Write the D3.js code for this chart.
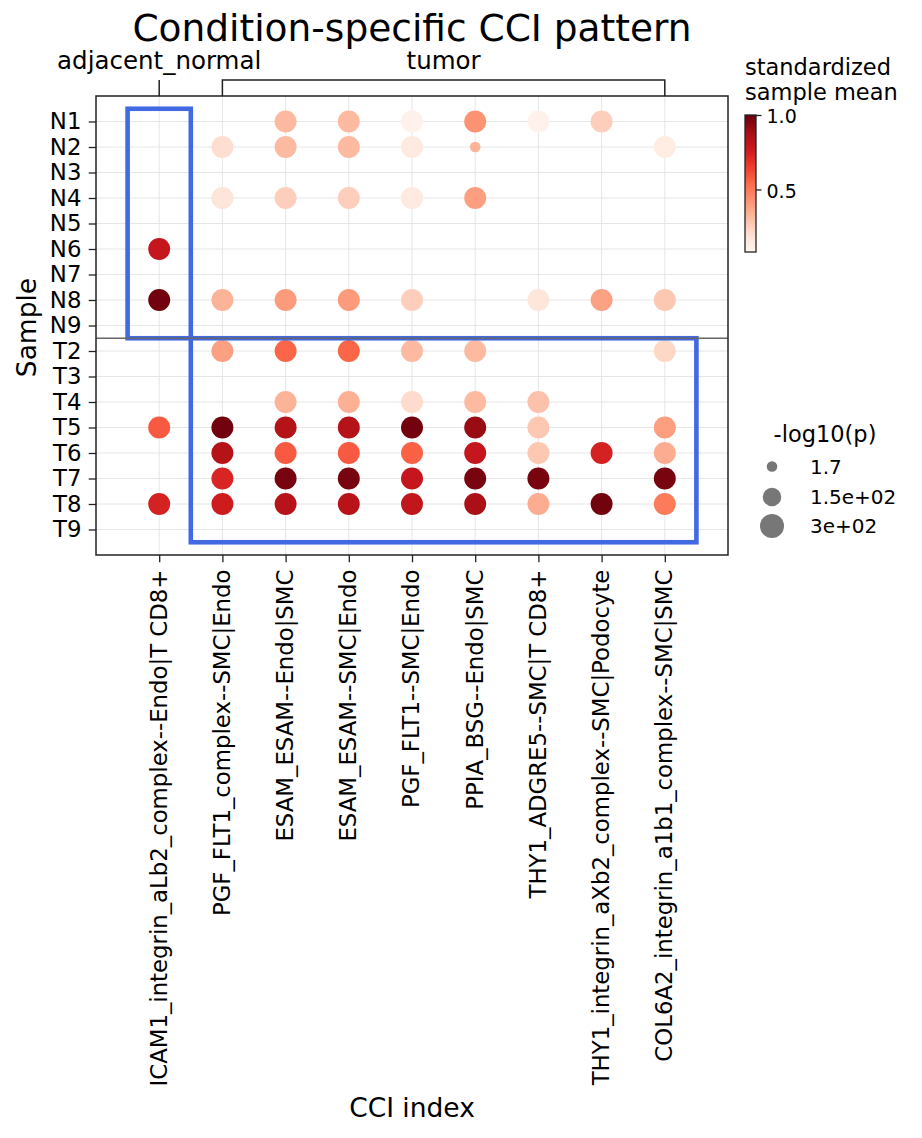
<!DOCTYPE html>
<html>
<head>
<meta charset="utf-8">
<script src="https://cdn.jsdelivr.net/npm/d3@7"></script>
<style>
  html, body { margin: 0; padding: 0; background: #fff; }
  text { font-family: "DejaVu Sans", sans-serif; fill: #000; }
</style>
</head>
<body>
<svg id="chart" width="922" height="1138"></svg>
<script>
// ---------------- DATA ----------------
const samples = ["N1","N2","N3","N4","N5","N6","N7","N8","N9","T2","T3","T4","T5","T6","T7","T8","T9"];
const cciIndex = [
  "ICAM1_integrin_aLb2_complex--Endo|T CD8+",
  "PGF_FLT1_complex--SMC|Endo",
  "ESAM_ESAM--Endo|SMC",
  "ESAM_ESAM--SMC|Endo",
  "PGF_FLT1--SMC|Endo",
  "PPIA_BSG--Endo|SMC",
  "THY1_ADGRE5--SMC|T CD8+",
  "THY1_integrin_aXb2_complex--SMC|Podocyte",
  "COL6A2_integrin_a1b1_complex--SMC|SMC"
];
// standardized sample mean, one array per sample (null = no dot)
const meanN1 = [null, null, 0.31, 0.31, 0.10, 0.42, 0.10, 0.25, null];
const meanN2 = [null, 0.20, 0.31, 0.31, 0.14, 0.33, null, null, 0.13];
const meanN3 = [null, null, null, null, null, null, null, null, null];
const meanN4 = [null, 0.17, 0.25, 0.25, 0.14, 0.39, null, null, null];
const meanN5 = [null, null, null, null, null, null, null, null, null];
const meanN6 = [0.79, null, null, null, null, null, null, null, null];
const meanN7 = [null, null, null, null, null, null, null, null, null];
const meanN8 = [0.98, 0.33, 0.40, 0.40, 0.25, null, 0.16, 0.38, 0.27];
const meanN9 = [null, null, null, null, null, null, null, null, null];
const meanT2 = [null, 0.385, 0.55, 0.55, 0.31, 0.31, null, null, 0.22];
const meanT3 = [null, null, null, null, null, null, null, null, null];
const meanT4 = [null, null, 0.33, 0.34, 0.21, 0.31, 0.29, null, null];
const meanT5 = [0.58, 0.98, 0.84, 0.84, 0.98, 0.905, 0.27, null, 0.39];
const meanT6 = [null, 0.84, 0.58, 0.58, 0.56, 0.79, 0.27, 0.74, 0.35];
const meanT7 = [null, 0.73, 0.97, 0.97, 0.79, 0.97, 0.97, null, 0.97];
const meanT8 = [0.74, 0.76, 0.83, 0.83, 0.80, 0.87, 0.35, 0.98, 0.49];
const meanT9 = [null, null, null, null, null, null, null, null, null];
const sampleMeans = [meanN1, meanN2, meanN3, meanN4, meanN5, meanN6, meanN7, meanN8, meanN9,
                     meanT2, meanT3, meanT4, meanT5, meanT6, meanT7, meanT8, meanT9];
// -log10(p) for each dot (same layout); small dot at N2 / PPIA_BSG
const pDefault = 240;
const pOverrides = [{sample: "N2", cci: "PPIA_BSG--Endo|SMC", value: 1.7}];

// condition groups over the CCI index
const groupNames = ["adjacent_normal", "tumor"];
const groupFirst = [0, 1];
const groupLast  = [0, 8];
const groupSamplePrefix = ["N", "T"];

// colour bar & legend
const colorMin = 0.08, colorMax = 1.0;
const colorTicks = [0.5, 1.0];
const sizeLegendValues = [1.7, 150, 300];
const sizeLegendLabels = ["1.7", "1.5e+02", "3e+02"];
const sizeMin = 1.7, sizeMax = 300;

// ---------------- LAYOUT ----------------
const svg = d3.select("#chart");
svg.append("rect").attr("width", 922).attr("height", 1138).attr("fill", "#fff");

const L = 96, R = 728, T = 96, B = 555;
const FONT_TICK = 22.8;

const x = d3.scalePoint().domain(cciIndex).range([L, R]).padding(1);
const y = d3.scalePoint().domain(samples).range([T, B]).padding(1);
const xs = x.step(), ys = y.step();

// matplotlib Reds
const redsStops = [0, 0.125, 0.25, 0.375, 0.5, 0.625, 0.75, 0.875, 1];
const redsColors = ["#fff5f0","#fee0d2","#fcbba1","#fc9272","#fb6a4a","#ef3b2c","#cb181d","#a50f15","#67000d"];
const color = d3.scaleLinear()
  .domain(redsStops.map(t => colorMin + t * (colorMax - colorMin)))
  .range(redsColors)
  .interpolate(d3.interpolateRgb)
  .clamp(true);

// size: marker area linear in value
const rMin = 5.3, rMax = 12;
const area = d3.scaleLinear().domain([sizeMin, sizeMax]).range([rMin * rMin, rMax * rMax]);
const radius = v => Math.sqrt(Math.max(area(v), 1));

// build dot table
const dots = [];
samples.forEach((s, i) => {
  sampleMeans[i].forEach((m, j) => {
    if (m === null) return;
    const ov = pOverrides.find(o => o.sample === s && o.cci === cciIndex[j]);
    dots.push({sample: s, cci: cciIndex[j], mean: m, p: ov ? ov.value : pDefault});
  });
});

// grid
const grid = svg.append("g");
grid.selectAll(".gx").data(cciIndex).join("line")
  .attr("x1", d => x(d)).attr("x2", d => x(d)).attr("y1", T).attr("y2", B)
  .attr("stroke", "#e6e6e6").attr("stroke-width", 1);
grid.selectAll(".gy").data(samples).join("line")
  .attr("y1", d => y(d)).attr("y2", d => y(d)).attr("x1", L).attr("x2", R)
  .attr("stroke", "#e6e6e6").attr("stroke-width", 1);

// dots
svg.append("g").selectAll("circle").data(dots).join("circle")
  .attr("cx", d => x(d.cci)).attr("cy", d => y(d.sample))
  .attr("r", d => radius(d.p))
  .attr("fill", d => color(d.mean));

// highlight boxes (condition-specific region)
const boxes = svg.append("g");
groupNames.forEach((g, gi) => {
  const rows = samples.filter(s => s.startsWith(groupSamplePrefix[gi]));
  const x0 = x(cciIndex[groupFirst[gi]]) - xs / 2;
  const x1 = x(cciIndex[groupLast[gi]]) + xs / 2;
  const y0 = y(rows[0]) - ys / 2;
  const y1 = y(rows[rows.length - 1]) + ys / 2;
  boxes.append("rect")
    .attr("x", x0).attr("y", y0).attr("width", x1 - x0).attr("height", y1 - y0)
    .attr("fill", "none").attr("stroke", "#4169e1").attr("stroke-width", 4.6);
});

// separator between normal and tumor samples
const lastN = samples.filter(s => s.startsWith("N")).pop();
const firstT = samples.find(s => s.startsWith("T"));
const sepY = (y(lastN) + y(firstT)) / 2;
svg.append("line").attr("x1", L).attr("x2", R).attr("y1", sepY).attr("y2", sepY)
  .attr("stroke", "#666").attr("stroke-width", 1.5);

// frame
svg.append("rect").attr("x", L).attr("y", T).attr("width", R - L).attr("height", B - T)
  .attr("fill", "none").attr("stroke", "#222").attr("stroke-width", 1.5);

// y axis
const yAxis = svg.append("g").attr("transform", `translate(${L},0)`)
  .call(d3.axisLeft(y).tickSize(7.3).tickPadding(7.3));
yAxis.select(".domain").remove();
yAxis.selectAll(".tick line").attr("stroke", "#222").attr("stroke-width", 1.3);
yAxis.selectAll(".tick text").style("font-family", "DejaVu Sans").style("font-size", FONT_TICK + "px").attr("fill", "#000");

// x axis
const xAxis = svg.append("g").attr("transform", `translate(0,${B})`)
  .call(d3.axisBottom(x).tickSize(7.3).tickPadding(7.3));
xAxis.select(".domain").remove();
xAxis.selectAll(".tick line").attr("stroke", "#222").attr("stroke-width", 1.3);
xAxis.selectAll(".tick text")
  .style("font-family", "DejaVu Sans").style("font-size", FONT_TICK + "px").attr("fill", "#000")
  .attr("transform", "rotate(-90)")
  .attr("x", -14.6).attr("y", -1).attr("dy", "0.35em")
  .attr("text-anchor", "end");

// axis labels
svg.append("text").attr("transform", `translate(36,${(T + B) / 2 + 2}) rotate(-90)`)
  .attr("text-anchor", "middle").style("font-size", "26.5px").text("Sample");
svg.append("text").attr("x", (L + R) / 2).attr("y", 1117)
  .attr("text-anchor", "middle").style("font-size", "26.5px").text("CCI index");

// title
svg.append("text").attr("x", (L + R) / 2).attr("y", 41)
  .attr("text-anchor", "middle").style("font-size", "37.5px").text("Condition-specific CCI pattern");

// group brackets
const br = svg.append("g");
const brY = 80;
groupNames.forEach((g, gi) => {
  const a = x(cciIndex[groupFirst[gi]]), b = x(cciIndex[groupLast[gi]]);
  let path;
  if (a === b) path = `M${a},${T}V${brY}`;
  else path = `M${a},${T}V${brY}H${b}V${T}`;
  br.append("path").attr("d", path).attr("fill", "none").attr("stroke", "#222").attr("stroke-width", 1.5);
  br.append("text").attr("x", (a + b) / 2).attr("y", 68.5).attr("text-anchor", "middle")
    .style("font-size", "24.5px").text(g);
});

// colour bar
const cbX = 745, cbY = 115, cbW = 11, cbH = 137;
const defs = svg.append("defs");
const grad = defs.append("linearGradient").attr("id", "redsGrad")
  .attr("x1", 0).attr("y1", 1).attr("x2", 0).attr("y2", 0);
d3.range(0, 1.0001, 0.05).forEach(t => {
  grad.append("stop").attr("offset", t).attr("stop-color", color(colorMin + t * (colorMax - colorMin)));
});
svg.append("rect").attr("x", cbX).attr("y", cbY).attr("width", cbW).attr("height", cbH)
  .attr("fill", "url(#redsGrad)").attr("stroke", "#222").attr("stroke-width", 1.3);
const cbScale = d3.scaleLinear().domain([colorMin, colorMax]).range([cbY + cbH, cbY]);
const cbAxis = svg.append("g").attr("transform", `translate(${cbX + cbW},0)`)
  .call(d3.axisRight(cbScale).tickValues(colorTicks).tickFormat(d3.format(".1f")).tickSize(5.5).tickPadding(5));
cbAxis.select(".domain").remove();
cbAxis.selectAll(".tick line").attr("stroke", "#222").attr("stroke-width", 1.3);
cbAxis.selectAll(".tick text").style("font-family", "DejaVu Sans").style("font-size", "19px").attr("fill", "#000")
  .attr("dy", "0.4em");
svg.append("text").attr("x", 745).attr("y", 75).style("font-size", "22.5px").text("standardized");
svg.append("text").attr("x", 745).attr("y", 100).style("font-size", "22.5px").text("sample mean");

// size legend
svg.append("text").attr("x", 825).attr("y", 441.5).attr("text-anchor", "middle")
  .style("font-size", "22.5px").text("-log10(p)");
const legY = [466.5, 497, 526];
const leg = svg.append("g");
sizeLegendValues.forEach((v, i) => {
  leg.append("circle").attr("cx", 772).attr("cy", legY[i]).attr("r", radius(v)).attr("fill", "#777");
  leg.append("text").attr("x", 810).attr("y", legY[i]).attr("dy", "0.35em")
    .style("font-size", "20px").text(sizeLegendLabels[i]);
});
</script>
</body>
</html>
